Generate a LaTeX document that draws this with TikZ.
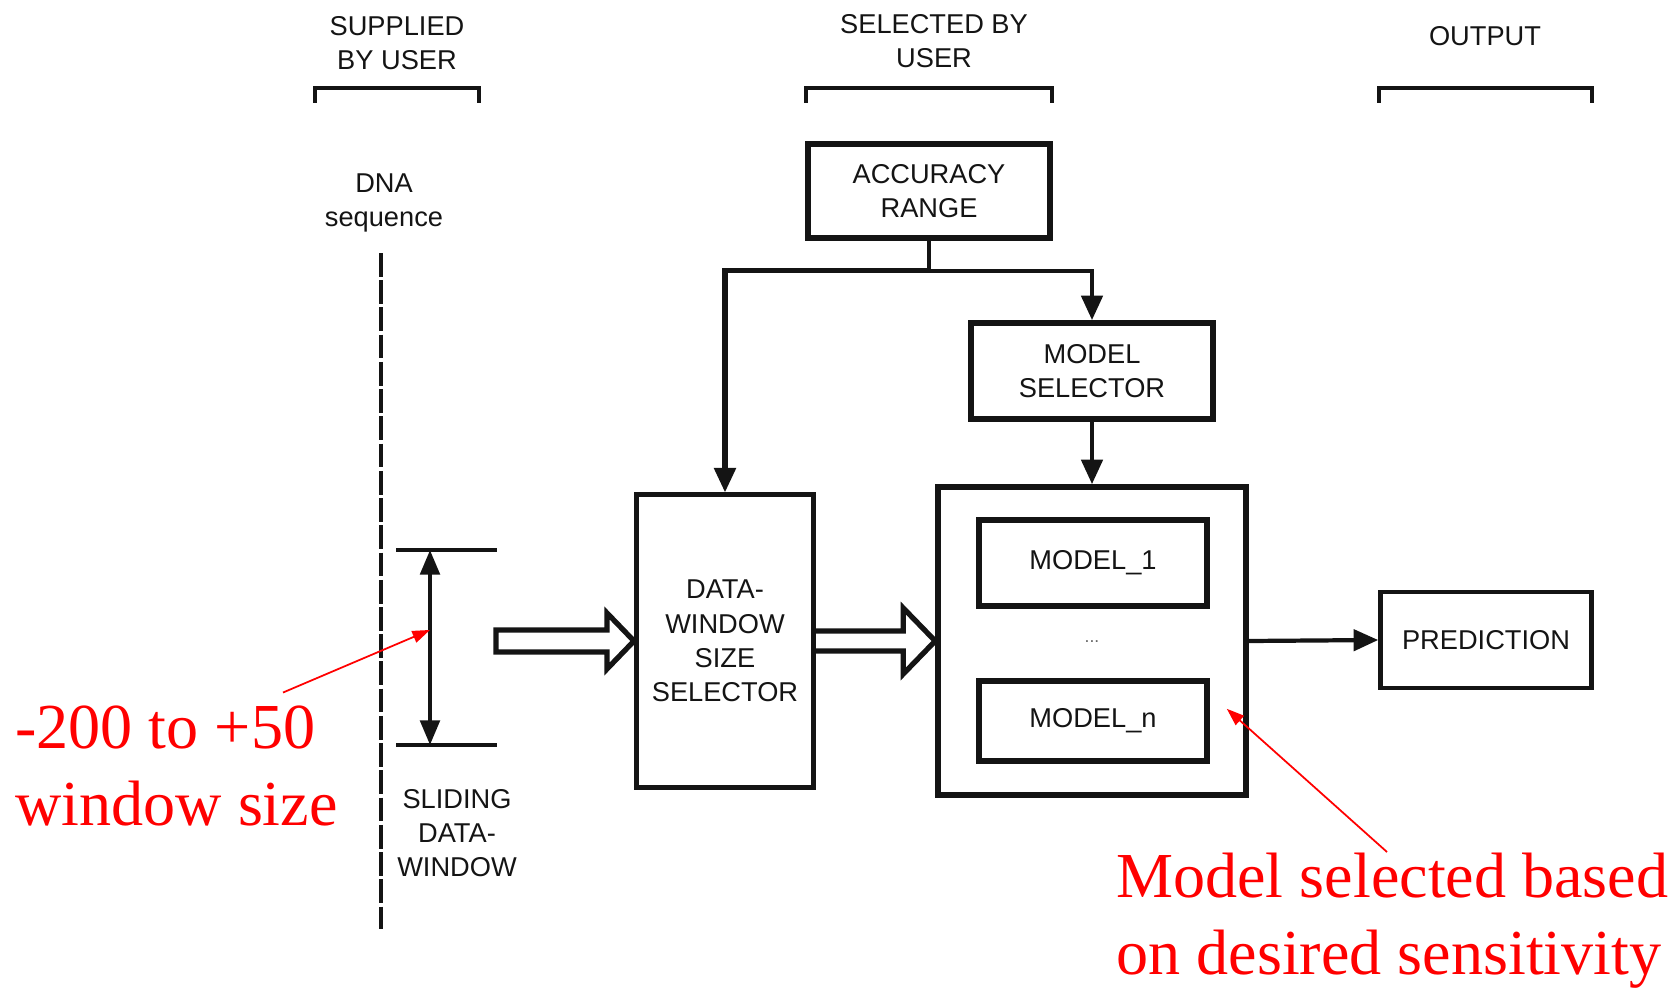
\documentclass[tikz,border=0pt]{standalone}
\usepackage{fontspec}
\setmainfont{Liberation Sans}
\newfontfamily\notefamily{Liberation Serif}
\usepackage{tikz}
\usetikzlibrary{arrows.meta,calc}
\usepackage{xcolor}
\definecolor{InkBlack}{RGB}{20,20,20}
\definecolor{NoteRed}{RGB}{255,0,0}
\newcommand{\boxfont}{\fontsize{15.5pt}{19.5pt}\selectfont}
\newcommand{\notefont}{\notefamily\fontsize{36.5pt}{43.8pt}\selectfont}
\tikzset{
  blockbox/.style={draw=InkBlack,line width=3.2pt,rectangle,align=center,
    font=\boxfont,text=InkBlack,inner sep=0pt},
  plaintext/.style={align=center,font=\boxfont,text=InkBlack,inner sep=0pt},
  flowline/.style={line width=2.6pt,draw=InkBlack},
  flowarrow/.style={-{Triangle[length=14pt,width=12pt]},
    line width=2.6pt,draw=InkBlack},
  winarrow/.style={{Triangle[length=14pt,width=11pt]}-{Triangle[length=14pt,width=11pt]},
    line width=2.4pt,draw=InkBlack},
  hollowarrow/.style={draw=InkBlack,line width=3pt,fill=white},
  bracketline/.style={draw=InkBlack,line width=1.9pt},
  dnaline/.style={draw=InkBlack,line width=2pt,dash pattern=on 13.5pt off 2pt},
  notetext/.style={align=left,font=\notefont,text=NoteRed,inner sep=0pt},
  notearrow/.style={-{Triangle[length=10pt,width=7pt]},
    line width=1pt,draw=NoteRed},
}

\begin{document}
\begin{tikzpicture}[x=0.02cm,y=-0.02cm]
  \useasboundingbox (0,0) rectangle (1670,990);

  % column headings
  \node[plaintext] (suphead) at (397,43) {SUPPLIED\\BY USER};
  \node[plaintext] (selhead) at (934,41) {SELECTED BY\\USER};
  \node[plaintext] (outhead) at (1485,36) {OUTPUT};
  \foreach \l/\r in {315/479,806/1052,1379/1592}
    \draw[bracketline] (\l,103) -- (\l,88) -- (\r,88) -- (\r,103);

  % input side
  \node[plaintext] (dna) at (384,203) {DNA\\sequence};
  \draw[dnaline] (381,253) -- (381,929);
  \coordinate (wintop) at (430,550);
  \coordinate (winbot) at (430,745);
  \draw[flowline,line width=2.8pt] (396,550) -- (497,550);
  \draw[flowline,line width=2.8pt] (396,745) -- (497,745);
  \draw[winarrow] (wintop) -- (winbot);
  \node[plaintext] (slide) at (457,833) {SLIDING\\DATA-\\WINDOW};

  % blocks
  \node[blockbox,minimum width=4.84cm,minimum height=1.88cm] (acc) at (929,191) {ACCURACY\\RANGE};
  \node[blockbox,minimum width=4.84cm,minimum height=1.92cm] (msel) at (1092,371) {MODEL\\SELECTOR};
  \node[blockbox,line width=2.6pt,minimum width=3.55cm,minimum height=5.85cm] (dws) at (725,641)
    {DATA-\\WINDOW\\SIZE\\SELECTOR};
  \node[blockbox,minimum width=6.16cm,minimum height=6.16cm] (bank) at (1092,641) {};
  \node[blockbox,minimum width=4.56cm,minimum height=1.72cm] (mfirst) at (1093,563) {MODEL\_1};
  \node[plaintext,font=\fontsize{10pt}{10pt}\selectfont,text=black!60] (dots) at (1092,642) {...};
  \node[blockbox,minimum width=4.56cm,minimum height=1.6cm] (mlast) at (1093,721) {MODEL\_n};
  \node[blockbox,line width=2.6pt,minimum width=4.22cm,minimum height=1.92cm] (pred) at (1486,640) {PREDICTION};

  % connectors
  \draw[flowline] (acc.south) -- ++(0,30) coordinate (split);
  \draw[flowarrow,line width=3pt] (split) -| (dws.north);
  \draw[flowarrow] (split) -| (msel.north);
  \draw[flowarrow] (msel.south) -- (bank.north);
  \draw[flowarrow,line width=2.4pt] (bank.east) -- (pred.west);

  % hollow arrows
  \draw[hollowarrow] ($(dws.west)+(-138,-11)$) -- ++(111,0) -- ++(0,-17) -- (dws.west)
    -- ++(-27,28) -- ++(0,-17) -- ++(-111,0) -- cycle;
  \draw[hollowarrow] ($(dws.east)+(0,-10)$) -- ($(bank.west)+(-32,-10)$) -- ++(0,-23)
    -- (bank.west) -- ++(-32,33) -- ++(0,-23) -- ($(dws.east)+(0,10)$);

  % red notes
  \node[notetext,anchor=west] (winnote) at (15,766) {-200 to +50\\window size};
  \node[notetext,anchor=west] (modnote) at (1116,921) {Model selected based\\on desired sensitivity};
  \coordinate (winmid) at ($(wintop)!0.41!(winbot)$);
  \coordinate (banktip) at ($(bank.south east)+(-22,-89)$);
  \draw[notearrow] ($(winnote.north west)+(268,-13)$) -- (winmid);
  \draw[notearrow] ($(modnote.north west)+(271,-1)$) -- (banktip);
\end{tikzpicture}
\end{document}
